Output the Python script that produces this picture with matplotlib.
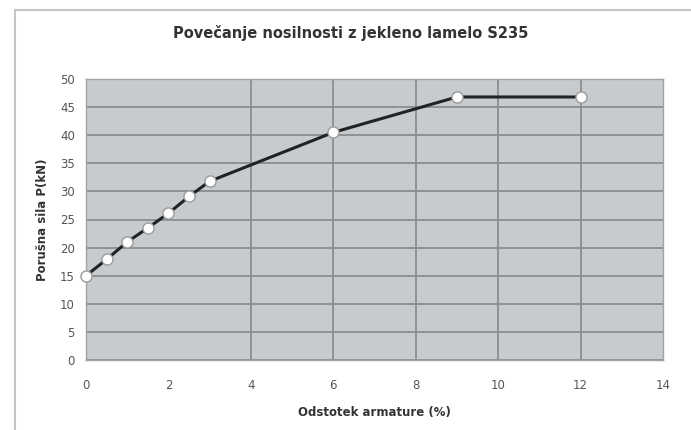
import matplotlib
matplotlib.use("Agg")
import matplotlib.pyplot as plt

title = "Povečanje nosilnosti z jekleno lamelo S235"
xlabel = "Odstotek armature (%)"
ylabel = "Porušna sila P(kN)"
x_vals = [0, 0.5, 1, 1.5, 2, 2.5, 3, 6, 9, 12]
y_vals = [15.0, 17.9, 21.0, 23.5, 26.1, 29.1, 31.8, 40.5, 46.8, 46.8]
x_ticks = [0, 2, 4, 6, 8, 10, 12, 14]
y_ticks = [0, 5, 10, 15, 20, 25, 30, 35, 40, 45, 50]

plt.rcParams['font.family'] = ['DejaVu Sans']
fig = plt.figure(figsize=(6.91, 4.30), dpi=100)
fig.patch.set_facecolor('white')

# outer chart border (left/top visible)
fig.add_artist(plt.Line2D([15/691, 15/691], [0, 1 - 10/430], color='#c4c4c4', lw=1.5, transform=fig.transFigure))
fig.add_artist(plt.Line2D([15/691, 1], [1 - 10/430, 1 - 10/430], color='#c4c4c4', lw=1.5, transform=fig.transFigure))

ax = fig.add_axes([86/691, 1 - 360/430, (663 - 86)/691, (360 - 79)/430])
ax.set_facecolor('#c8cbce')
ax.set_xlim(0, 14)
ax.set_ylim(0, 50)
ax.set_xticks(x_ticks)
ax.set_yticks(y_ticks)
ax.tick_params(axis='both', length=0, labelsize=8.5, labelcolor='#555555')
ax.tick_params(axis='x', pad=14)
ax.tick_params(axis='y', pad=8)
for s in ax.spines.values():
    s.set_color('#a0a3a6')
    s.set_linewidth(1.0)

ax.grid(True, color='#8a8d91', lw=1.3)
ax.set_axisbelow(True)
# Vertical gridline at x=2 not visible in reference
for tick_val, gl in zip(x_ticks, ax.xaxis.get_gridlines()):
    if tick_val in (0, 2, 14):
        gl.set_visible(False)

ax.plot(x_vals, y_vals, color='#222222', lw=2.2, marker='o', markersize=8,
        markerfacecolor='white', markeredgecolor='#9a9a9a', markeredgewidth=1.0,
        clip_on=False, zorder=5)

ax.set_xlabel(xlabel, fontsize=8.5, fontweight='bold', color='#333333', labelpad=10)
ax.set_ylabel(ylabel, fontsize=8.5, fontweight='bold', color='#333333', labelpad=8)
fig.text(351/691, 1 - 33/430, title, ha='center', va='center', fontsize=10.5,
         fontweight='bold', color='#333333')

fig.savefig("out.png", dpi=100, facecolor='white')
